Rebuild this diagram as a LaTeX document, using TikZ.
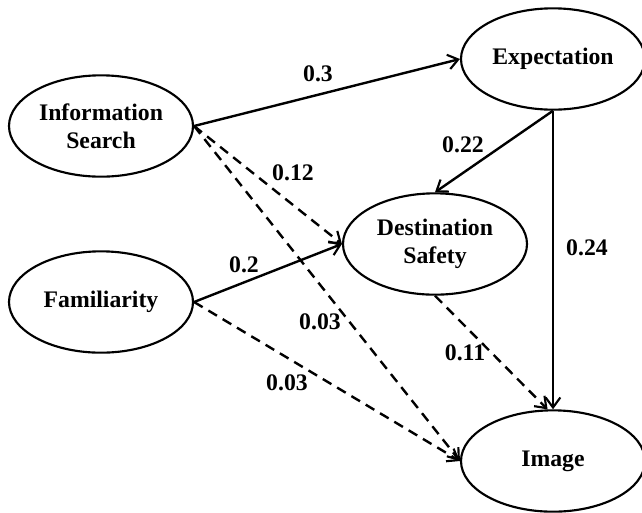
\documentclass[tikz,border=0pt]{standalone}
\usepackage{fontspec}
\setmainfont{Liberation Serif}
\usetikzlibrary{shapes.geometric,arrows.meta}
\tikzset{
  construct/.style={ellipse, draw=black, line width=1.6pt, minimum width=138pt, minimum height=76pt, inner sep=0pt, align=center, font=\bfseries\fontsize{17.8}{21}\selectfont},
  coef/.style={font=\bfseries\fontsize{17.8}{21}\selectfont, inner sep=1pt},
  path/.style={line width=1.8pt, -{Straight Barb[length=7.5pt,width=11pt,line width=1.6pt]}},
  weak/.style={path, dash pattern=on 7.5pt off 5pt}
}
\begin{document}
\begin{tikzpicture}[x=0.75pt,y=-0.75pt]
\useasboundingbox (0,0) rectangle (642,512);
\node[construct] (info) at (101,126) {Information\\Search};
\node[construct] (fam) at (101,302) {Familiarity};
\node[construct] (expect) at (553,59) {Expectation};
\node[construct] (safety) at (435,244) {Destination\\Safety};
\node[construct] (image) at (553,461) {Image};
\draw[path] (info.east)--(expect.west);
\draw[path] (expect.south)--(safety.north);
\draw[path] (expect.south)--(image.north);
\draw[path] (fam.east)--(safety.west);
\draw[weak] (info.east)--(safety.west);
\draw[weak] (info.east)--(image.west);
\draw[weak] (fam.east)--(image.west);
\draw[weak] (safety.south)--(image.96);
\draw node[coef] at (318,74) {0.3};
\draw node[coef] at (463,145) {0.22};
\draw node[coef] at (293,173) {0.12};
\draw node[coef] at (587,248) {0.24};
\draw node[coef] at (244,265) {0.2};
\draw node[coef] at (320,322) {0.03};
\draw node[coef] at (465,353) {0.11};
\draw node[coef] at (287,383) {0.03};
\end{tikzpicture}
\end{document}
